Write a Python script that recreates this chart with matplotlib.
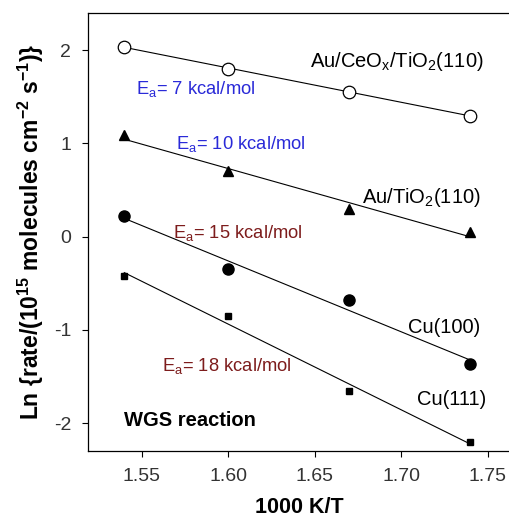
import numpy as np
import matplotlib
matplotlib.use("Agg")
import matplotlib.pyplot as plt

plt.rcParams['font.family'] = ['Liberation Sans', 'DejaVu Sans']
plt.rcParams['mathtext.fontset'] = 'custom'
plt.rcParams['mathtext.rm'] = 'Liberation Sans'
plt.rcParams['mathtext.it'] = 'Liberation Sans'
plt.rcParams['mathtext.bf'] = 'Liberation Sans:bold'

x = [1.54, 1.60, 1.67, 1.74]
au_ceox = [2.04, 1.80, 1.55, 1.30]
au_tio2 = [1.09, 0.70, 0.30, 0.05]
cu100 = [0.22, -0.35, -0.68, -1.37]
cu111 = [-0.42, -0.85, -1.66, -2.20]

xticks = [1.55, 1.60, 1.65, 1.70, 1.75]
yticks = [-2, -1, 0, 1, 2]

fig = plt.figure(figsize=(5.1, 5.2), dpi=100)
ax = fig.add_axes([0.1725, 0.1327, 0.8275, 0.8423])

series = [
    (au_ceox, dict(marker='o', mfc='white', mec='black', ms=9, mew=0.9)),
    (au_tio2, dict(marker='^', mfc='black', mec='black', ms=7.5)),
    (cu100, dict(marker='o', mfc='black', mec='black', ms=8)),
    (cu111, dict(marker='s', mfc='black', mec='black', ms=5)),
]
xa = np.array(x)
for ys, st in series:
    p = np.polyfit(xa, ys, 1)
    ax.plot(xa, np.polyval(p, xa), color='black', lw=0.8, zorder=1)
    ax.plot(xa, ys, ls='none', zorder=2, **st)

ax.set_xlim(1.519, 1.763)
ax.set_ylim(-2.30, 2.40)
ax.set_xticks(xticks)
ax.set_xticklabels([f"{t:.2f}" for t in xticks])
ax.set_yticks(yticks)
ax.set_yticklabels([str(t) for t in yticks])
ax.tick_params(direction='out', length=4, width=0.8, labelsize=14, labelcolor='#333333', pad=8)
ax.spines['right'].set_visible(False)
for s in ['left', 'bottom', 'top']:
    ax.spines[s].set_linewidth(0.9)

ax.set_xlabel('1000 K/T', fontsize=15.5, fontweight='bold', labelpad=9)
ax.set_ylabel(r'Ln {rate/(10$^{\mathbf{15}}$ molecules cm$^{\mathbf{-2}}$ s$^{\mathbf{-1}}$)}',
              fontsize=16.5, fontweight='bold', labelpad=6)

fs = 14.5
ax.text(1.748, 1.88, r'Au/CeO$_{\mathrm{x}}$/TiO$_{2}$(110)', fontsize=fs, ha='right', va='center')
ax.text(1.746, 0.42, r'Au/TiO$_{2}$(110)', fontsize=fs, ha='right', va='center')
ax.text(1.746, -0.98, 'Cu(100)', fontsize=fs, ha='right', va='center')
ax.text(1.749, -1.75, 'Cu(111)', fontsize=fs, ha='right', va='center')
ax.text(1.540, -1.97, 'WGS reaction', fontsize=14.5, fontweight='bold', ha='left', va='center')

blue = '#2a2ad8'
red = '#7d1c1c'
fe = 13.2
ax.text(1.547, 1.58, r'E$_{\mathrm{a}}$= 7 kcal/mol', fontsize=fe, color=blue, ha='left', va='center')
ax.text(1.570, 0.99, r'E$_{\mathrm{a}}$= 10 kcal/mol', fontsize=fe, color=blue, ha='left', va='center')
ax.text(1.568, 0.04, r'E$_{\mathrm{a}}$= 15 kcal/mol', fontsize=fe, color=red, ha='left', va='center')
ax.text(1.562, -1.39, r'E$_{\mathrm{a}}$= 18 kcal/mol', fontsize=fe, color=red, ha='left', va='center')

fig.savefig('out.png', dpi=100)
